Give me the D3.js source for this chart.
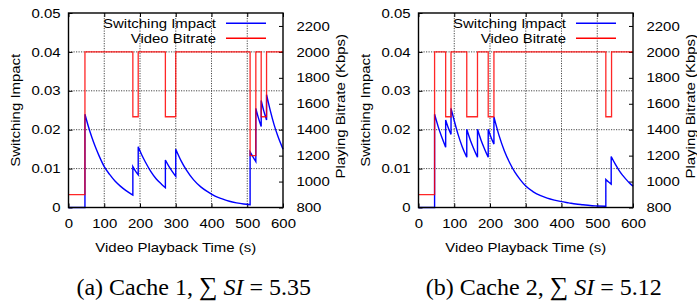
<!DOCTYPE html>
<html>
<head>
<meta charset="utf-8">
<script src="https://cdn.jsdelivr.net/npm/d3@7"></script>
<style>
  body { margin: 0; background: #fff; }
  text { font-family: "Liberation Sans", Arial, Helvetica, sans-serif; }
</style>
</head>
<body>
<svg id="chart" width="697" height="301"></svg>
<script>
// Switching impact vs. video bitrate, two cache panels

// ---- data ----
const xTicks = [0, 100, 200, 300, 400, 500, 600];
const impactTicks = [0, 0.01, 0.02, 0.03, 0.04, 0.05];
const bitrateTicks = [800, 1000, 1200, 1400, 1600, 1800, 2000, 2200];
const legendNames = ["Switching Impact", "Video Bitrate"];

// [time (s), switching impact]
const impactA = [
  [0, 0], [46, 0], [46, 0.0240], [55, 0.0210], [65, 0.0181], [75, 0.0156], [85, 0.0134],
  [100, 0.0105], [115, 0.0085], [130, 0.0068], [145, 0.0055], [160, 0.0044], [180, 0.0032],
  [180, 0.0105], [187, 0.0094], [195, 0.0084],
  [195, 0.0156], [205, 0.0135], [215, 0.0117], [230, 0.0093], [245, 0.0074], [260, 0.0060], [271, 0.0051],
  [271, 0.0122], [280, 0.0107], [290, 0.0093], [300, 0.0080],
  [300, 0.0150], [315, 0.0120], [330, 0.0096], [350, 0.0071], [370, 0.0053], [390, 0.0040],
  [410, 0.0029], [430, 0.0022], [450, 0.0016], [470, 0.0012], [490, 0.0009], [508, 0.0007],
  [508, 0.0143], [516, 0.0130], [524, 0.0118],
  [524, 0.0255], [531, 0.0231], [539, 0.0208],
  [539, 0.0275], [546, 0.0249], [554, 0.0225],
  [554, 0.0290], [565, 0.0247], [575, 0.0213], [585, 0.0185], [600, 0.0150]
];
const impactB = [
  [0, 0], [45, 0], [45, 0.0240], [55, 0.0208], [65, 0.0181], [76, 0.0155],
  [76, 0.0225], [84, 0.0203], [91, 0.0188],
  [91, 0.0255], [100, 0.0223], [110, 0.0190], [122, 0.0157], [135, 0.0129],
  [135, 0.0201], [145, 0.0173], [155, 0.0150], [165, 0.0129],
  [165, 0.0201], [175, 0.0173], [185, 0.0150], [195, 0.0129],
  [195, 0.0201], [203, 0.0180], [211, 0.0163],
  [211, 0.0233], [225, 0.0186], [240, 0.0146], [255, 0.0115], [270, 0.0090], [285, 0.0071],
  [300, 0.0055], [320, 0.0041], [340, 0.0031], [360, 0.0024], [380, 0.0019], [400, 0.0015],
  [420, 0.0012], [440, 0.0009], [460, 0.0007], [480, 0.0005], [500, 0.0004], [524, 0.0003],
  [524, 0.0072], [531, 0.0066], [539, 0.0060],
  [539, 0.0131], [550, 0.0112], [560, 0.0097], [570, 0.0084], [580, 0.0073], [590, 0.0063], [600, 0.0055]
];

// [time (s), bitrate (Kbps)] step changes
const bitrateA = [
  [0, 900], [46, 2000], [180, 1500], [195, 2000], [271, 1500], [300, 2000],
  [508, 1200], [524, 2000], [539, 1500], [554, 2000], [600, 2000]
];
const bitrateB = [
  [0, 900], [45, 2000], [76, 1500], [91, 2000], [135, 1500], [165, 2000],
  [195, 1500], [211, 2000], [524, 1500], [540, 2000], [600, 2000]
];

const captionA = { label: "(a) Cache 1, ", value: "5.35" };
const captionB = { label: "(b) Cache 2, ", value: "5.12" };

// ---- layout ----
const svg = d3.select("#chart");
const SX = 1.15;   // gnuplot font is a bit wider than Arial
const FS = 13;
const plotTop = 13, plotBottom = 207.5, plotW = 214.5;

function txt(g, x, y, s, anchor, rot) {
  return g.append("text")
    .attr("transform", `translate(${x},${y})` + (rot ? " rotate(-90)" : "") + ` scale(${SX},1)`)
    .attr("text-anchor", anchor)
    .style("font-size", FS + "px")
    .text(s);
}

function panel(left, impact, bitrate, cap) {
  const g = svg.append("g").attr("transform", `translate(${left},0)`);

  const x = d3.scaleLinear().domain([0, 600]).range([0, plotW]);
  const y = d3.scaleLinear().domain([0, 0.05]).range([plotBottom, plotTop]);
  const y2 = d3.scaleLinear().domain([800, 2300]).range([plotBottom, plotTop]);

  // grid
  const grid = g.append("g");
  grid.selectAll("line.v")
    .data(xTicks.slice(1, -1)).enter().append("line").attr("class", "v")
    .attr("x1", d => x(d)).attr("x2", d => x(d))
    .attr("y1", plotTop).attr("y2", plotBottom);
  grid.selectAll("line.h")
    .data(impactTicks.slice(1, -1)).enter().append("line").attr("class", "h")
    .attr("x1", 0).attr("x2", plotW)
    .attr("y1", d => y(d)).attr("y2", d => y(d));
  grid.selectAll("line")
    .attr("stroke", "#333").attr("stroke-width", 0.9).attr("stroke-dasharray", "1.2,1.3");

  // axes (ticks point inward)
  const fixText = sel => {
    sel.attr("font-family", null);
    sel.select(".domain").remove();
    sel.selectAll(".tick line").attr("stroke", "#000");
    sel.selectAll(".tick text")
      .style("font-size", FS + "px").attr("fill", "#000")
      .attr("x", function () { return +d3.select(this).attr("x") / SX; })
      .attr("transform", `scale(${SX},1)`);
  };
  g.append("g").attr("transform", `translate(0,${plotBottom})`)
    .call(d3.axisBottom(x).tickValues(xTicks).tickSize(-4).tickPadding(11)).call(fixText);
  g.append("g").attr("transform", `translate(0,${plotTop})`)
    .call(d3.axisTop(x).tickValues(xTicks).tickSize(-4).tickFormat("")).call(fixText);
  g.append("g")
    .call(d3.axisLeft(y).tickValues(impactTicks).tickSize(-4).tickPadding(8)
      .tickFormat(d => d === 0 ? "0" : d3.format(".2f")(d))).call(fixText);
  g.append("g").attr("transform", `translate(${plotW},0)`)
    .call(d3.axisRight(y2).tickValues(bitrateTicks).tickSize(-4).tickPadding(13.5)
      .tickFormat(d3.format("d"))).call(fixText);

  // switching impact: smooth decays, vertical jumps
  const runs = [];
  impact.forEach((p, i) => {
    if (i === 0 || p[0] === impact[i - 1][0]) runs.push([]);
    runs[runs.length - 1].push(p);
  });
  const smooth = d3.line().x(d => x(d[0])).y(d => y(d[1])).curve(d3.curveMonotoneX);
  const dPath = runs.map((r, i) => {
    const s = r.length > 1 ? smooth(r) : `M${x(r[0][0])},${y(r[0][1])}`;
    return i === 0 ? s : "L" + s.slice(1);
  }).join("");
  g.append("path").attr("d", dPath)
    .attr("fill", "none").attr("stroke", "#0000ff").attr("stroke-width", 1.4);

  // video bitrate
  const step = d3.line().x(d => x(d[0])).y(d => y2(d[1])).curve(d3.curveStepAfter);
  g.append("path").datum(bitrate).attr("d", step)
    .attr("fill", "none").attr("stroke", "#ff0000").attr("stroke-width", 1.3)
    .attr("stroke-opacity", 0.85);

  // border
  g.append("rect").attr("x", 0).attr("y", plotTop).attr("width", plotW).attr("height", plotBottom - plotTop)
    .attr("fill", "none").attr("stroke", "#000").attr("stroke-width", 1.4);

  // legend
  const lc = ["#0000ff", "#ff0000"];
  legendNames.forEach((name, i) => {
    const ly = 23.3 + i * 15;
    txt(g, 147.5, ly + 4.6, name, "end");
    g.append("line").attr("x1", 157.5).attr("x2", 197.5).attr("y1", ly).attr("y2", ly)
      .attr("stroke", lc[i]).attr("stroke-width", 1.4);
  });

  // axis titles
  txt(g, plotW / 2, 251.5, "Video Playback Time (s)", "middle");
  txt(g, 19.5 - 68.5, (plotTop + plotBottom) / 2, "Switching Impact", "middle", true);
  txt(g, plotW + 62, (plotTop + plotBottom) / 2 - 4, "Playing Bitrate (Kbps)", "middle", true);

  // caption
  const c = g.append("text")
    .attr("x", plotW / 2 + 18).attr("y", 295)
    .attr("text-anchor", "middle")
    .style("font-family", "'Liberation Serif', 'Times New Roman', serif")
    .style("font-size", "24px");
  c.append("tspan").text(cap.label);
  c.append("tspan").text("\u2211").style("font-size", "26px");
  c.append("tspan").text(" ");
  c.append("tspan").text("SI").style("font-style", "italic");
  c.append("tspan").text(" = " + cap.value);
}

panel(68.5, impactA, bitrateA, captionA);
panel(418.5, impactB, bitrateB, captionB);
</script>
</body>
</html>
